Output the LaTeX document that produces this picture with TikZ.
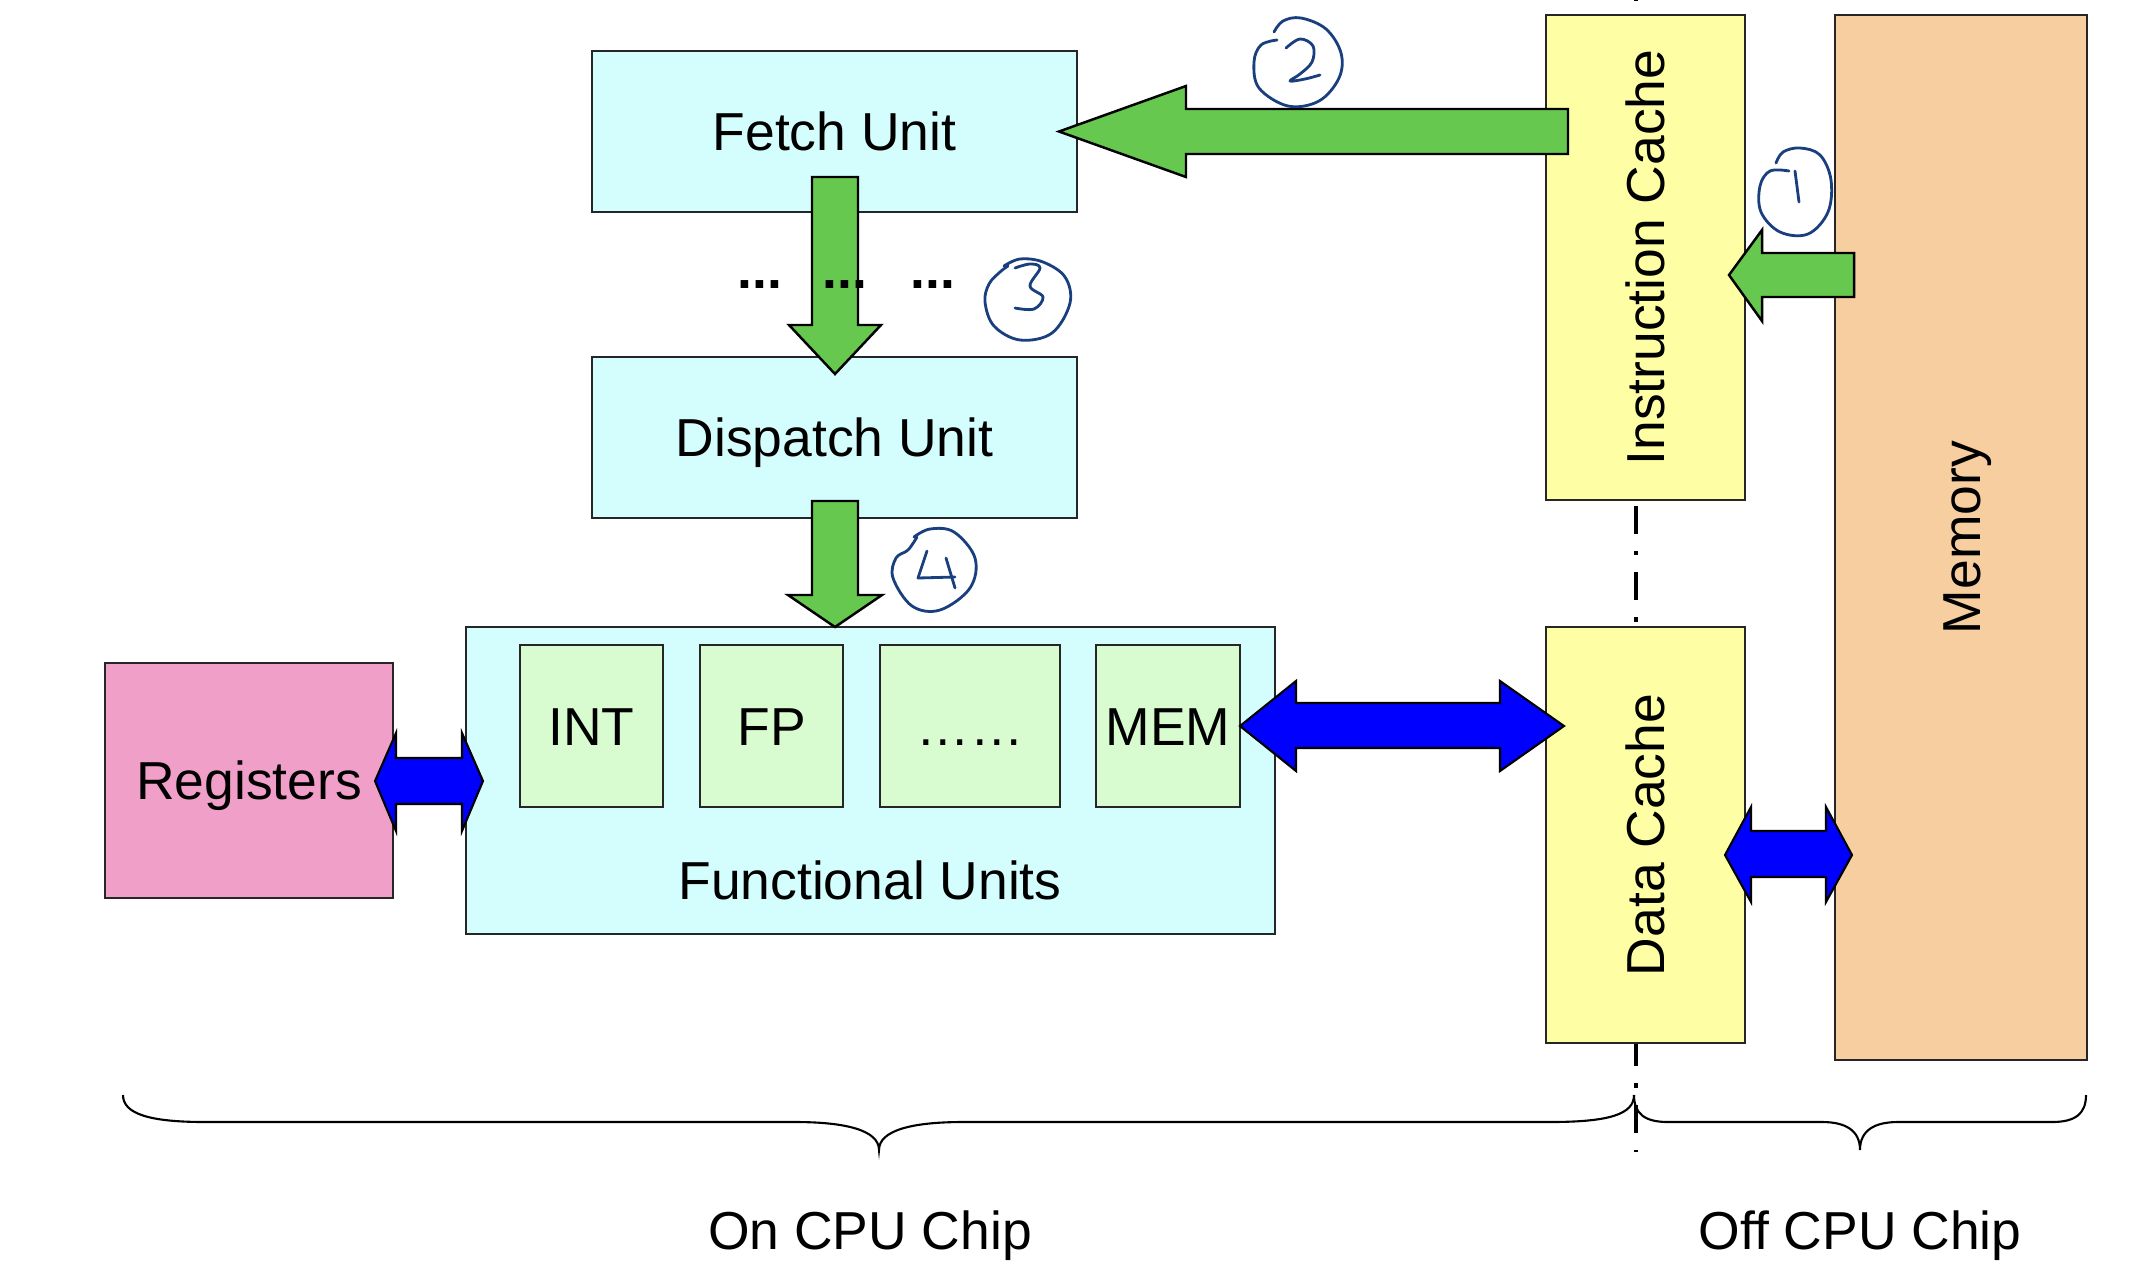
\documentclass[tikz,border=0pt]{standalone}
\usepackage{fontspec}
\setmainfont{Liberation Sans}
\definecolor{unitcyan}{HTML}{D4FEFE}
\definecolor{fugreen}{HTML}{D8FCD0}
\definecolor{regpink}{HTML}{F0A0C8}
\definecolor{cacheyellow}{HTML}{FEFEA4}
\definecolor{memtan}{HTML}{F6CEA0}
\definecolor{arrowgreen}{HTML}{66C84E}
\definecolor{inkblue}{HTML}{1A3F7E}
\begin{document}
\begin{tikzpicture}[x=0.01cm,y=-0.01cm,
  lbl/.style={inner sep=0pt, outer sep=0pt, text height=10.9pt, text depth=0pt,
    font=\fontsize{15.2}{18}\selectfont},
  box/.style={lbl, draw=black!85, line width=0.6pt},
  greenblock/.style={fill=arrowgreen, draw=black, line width=0.7pt, line join=miter},
  blueblock/.style={fill=blue, draw=black, line width=0.6pt, line join=miter},
  hand/.style={draw=inkblue, line width=0.8pt, line cap=round, line join=round},
  bracepath/.style={draw=black, line width=0.6pt},
  divider/.style={draw=black, line width=1.3pt,
    dash pattern=on 7.97pt off 4.84pt on 1.28pt off 4.84pt, dash phase=7.68pt}
]
\useasboundingbox (0,0) rectangle (2148,1278);

% chip boundary (behind the caches)
\coordinate (divtop) at (1636,0);
\coordinate (divbot) at (1636,1152);
\draw[divider] (divtop) -- (divbot);

% processor blocks
\node[box, fill=unitcyan, minimum width=4.85cm, minimum height=1.61cm] (fetch) at (834.5,131.5) {Fetch Unit};
\node[box, fill=unitcyan, minimum width=4.85cm, minimum height=1.61cm] (dispatch) at (834.5,437.5) {Dispatch Unit};
\node[box, fill=unitcyan, minimum width=8.09cm, minimum height=3.07cm] (fu) at (870.5,780.5) {};
\node[lbl] (fulabel) at (870,880) {Functional Units};
\node[box, fill=fugreen, minimum width=1.43cm, minimum height=1.62cm] (int) at (591.5,726) {INT};
\node[box, fill=fugreen, minimum width=1.43cm, minimum height=1.62cm] (fp) at (771.5,726) {FP};
\node[box, fill=fugreen, minimum width=1.80cm, minimum height=1.62cm] (more) at (970,726) {\vphantom{I}……};
\node[box, fill=fugreen, minimum width=1.44cm, minimum height=1.62cm] (mem) at (1168,726) {MEM};
\node[box, fill=regpink, minimum width=2.88cm, minimum height=2.35cm] (reg) at (249,780.5) {Registers};

% caches and memory
\node[box, fill=cacheyellow, rotate=90, minimum width=4.85cm, minimum height=1.99cm] (icache) at (1645.5,257.5) {Instruction Cache};
\node[box, fill=cacheyellow, rotate=90, minimum width=4.16cm, minimum height=1.99cm] (dcache) at (1645.5,835) {Data Cache};
\node[box, fill=memtan, rotate=90, minimum width=10.45cm, minimum height=2.52cm] (memory) at (1961,537.5) {Memory};

% instruction flow
\filldraw[greenblock] (1854,253) -- (1762,253) -- (1762,230) -- (1729,275) -- (1762,321) -- (1762,297) -- (1854,297) -- cycle;
\filldraw[greenblock] (1568,109) -- (1186,109) -- (1186,86) -- (1059,131.5) -- (1186,177) -- (1186,154) -- (1568,154) -- cycle;
\filldraw[greenblock] (812,177) -- (812,325) -- (789,325) -- (835,374) -- (881,325) -- (858,325) -- (858,177) -- cycle;
\filldraw[greenblock] (812,501) -- (812,595) -- (788,595) -- (835,627) -- (882,595) -- (858,595) -- (858,501) -- cycle;

% data paths
\filldraw[blueblock] (375,781) -- (396,733) -- (396,758) -- (462,758) -- (462,733) -- (483,781) -- (462,831) -- (462,804) -- (396,804) -- (396,831) -- cycle;
\filldraw[blueblock] (1240,726) -- (1296,681) -- (1296,703) -- (1500,703) -- (1500,681) -- (1564,726) -- (1500,771) -- (1500,748) -- (1296,748) -- (1296,771) -- cycle;
\filldraw[blueblock] (1725,855) -- (1751,807) -- (1751,831) -- (1826,831) -- (1826,807) -- (1852,855) -- (1826,902) -- (1826,877) -- (1751,877) -- (1751,902) -- cycle;

% ellipses between fetch and dispatch
\node[lbl, font=\fontsize{15.2}{18}\selectfont\bfseries, anchor=base] (dotsa) at (760,288) {...};
\node[lbl, font=\fontsize{15.2}{18}\selectfont\bfseries, anchor=base] (dotsb) at (845,288) {...};
\node[lbl, font=\fontsize{15.2}{18}\selectfont\bfseries, anchor=base] (dotsc) at (933,288) {...};

% circled step numbers
% (1)
\draw[hand] plot[smooth, tension=0.6] coordinates {(1789,171) (1770,171) (1760,186) (1761,212) (1780,232) (1808,234) (1828,212) (1831,180) (1820,155) (1800,148) (1783,152) (1776,163)};
\draw[hand] (1795,171) -- (1799,202);
% (2)
\draw[hand] plot[smooth, tension=0.6] coordinates {(1277,40) (1261,45) (1254,62) (1259,88) (1288,106) (1319,101) (1339,78) (1341,53) (1326,29) (1301,18) (1283,21) (1274,32)};
\draw[hand] plot[smooth, tension=0.6] coordinates {(1286,48) (1300,39) (1313,46) (1312,62) (1300,74) (1290,81) (1305,79) (1320,75)};
% (3)
\draw[hand] plot[smooth, tension=0.6] coordinates {(1008,266) (1000,272) (989,284) (985,302) (994,326) (1020,340) (1052,333) (1070,303) (1065,277) (1043,262) (1020,259) (1004,266)};
\draw[hand] plot[smooth, tension=0.6] coordinates {(1015,268) (1030,264) (1040,268) (1030,286) (1043,297) (1034,309) (1015,308)};
% (4)
\draw[hand] plot[smooth, tension=0.6] coordinates {(917,537) (908,550) (896,558) (893,578) (912,606) (940,610) (970,588) (975,558) (954,532) (930,529) (914,537)};
\draw[hand] (927,551) -- (918,578) -- (955,577);
\draw[hand] (946,558) -- (955,588);

% on-chip / off-chip braces
\draw[bracepath] (123,1095) .. controls (123,1114) and (150,1122) .. (205,1122) -- (795,1122)
  .. controls (845,1122) and (879,1130) .. (879,1150)
  .. controls (879,1130) and (913,1122) .. (963,1122) -- (1550,1122)
  .. controls (1610,1122) and (1634,1114) .. (1634,1095);
\draw[bracepath] (1634,1095) .. controls (1634,1114) and (1645,1122) .. (1668,1122) -- (1822,1122)
  .. controls (1845,1122) and (1860,1130) .. (1860,1150)
  .. controls (1860,1130) and (1875,1122) .. (1898,1122) -- (2052,1122)
  .. controls (2075,1122) and (2086,1114) .. (2086,1095);
\node[lbl] (onchip) at (870,1230) {On CPU Chip};
\node[lbl] (offchip) at (1860,1230) {Off CPU Chip};
\end{tikzpicture}
\end{document}
